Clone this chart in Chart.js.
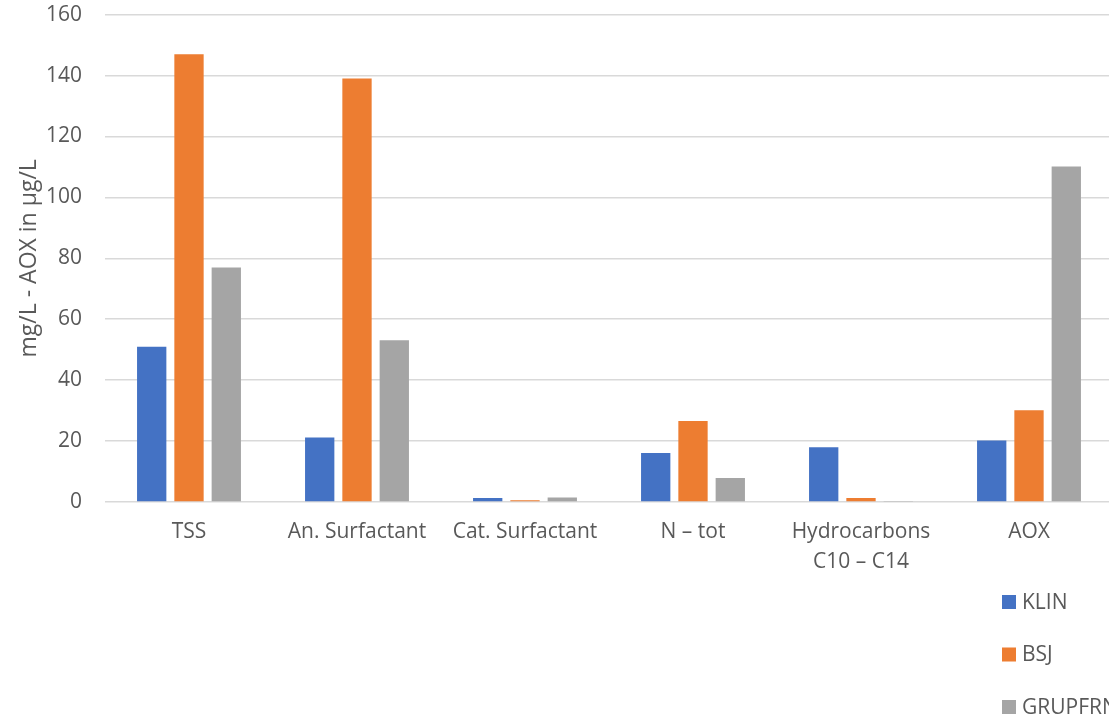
<!DOCTYPE html>
<html>
<head>
<meta charset="utf-8">
<script src="https://cdn.jsdelivr.net/npm/chart.js@4"></script>
<style>
  html, body { margin: 0; padding: 0; overflow: hidden; background: #fff; width: 1109px; height: 718px; }
  #wrap { position: absolute; left: 0; top: -21px; }
</style>
</head>
<body>
<div id="wrap"><canvas id="c" width="1120" height="761"></canvas></div>
<script>
const categories = ["TSS", "An. Surfactant", "Cat. Surfactant", "N – tot", ["Hydrocarbons", "C10 – C14"], "AOX"];
const seriesNames = ["KLIN", "BSJ", "GRUPFRN"];
const klin = [51, 21.2, 1.3, 16.1, 18, 20.2];
const bsj = [147, 139, 0.6, 26.6, 1.3, 30.1];
const grupfrn = [77, 53.1, 1.5, 7.9, 0.3, 110.1];
const seriesColors = ["#4472C4", "#ED7D31", "#A5A5A5"];
const yTicks = [0, 20, 40, 60, 80, 100, 120, 140, 160];
const yTitle = "mg/L - AOX in µg/L";

const FONT = "'Open Sans', 'Noto Sans', sans-serif";
const TEXT = "#595959";

const legendPlugin = {
  id: 'customLegend',
  afterDraw(chart) {
    const ctx = chart.ctx;
    const base = chart.chartArea.bottom + 93;
    ctx.save();
    ctx.font = "21px " + FONT;
    ctx.textBaseline = 'middle';
    ctx.textAlign = 'left';
    chart.data.datasets.forEach((ds, i) => {
      const y = base + i * 52.5;
      ctx.fillStyle = ds.backgroundColor;
      ctx.fillRect(1002, y, 14, 14);
      ctx.fillStyle = TEXT;
      ctx.fillText(ds.label, 1022, y + 8);
    });
    ctx.restore();
  }
};

const datasets = [klin, bsj, grupfrn].map((vals, i) => ({
  label: seriesNames[i],
  data: vals,
  backgroundColor: seriesColors[i],
  borderWidth: 0,
  categoryPercentage: 0.666,
  barPercentage: 0.786
}));

new Chart(document.getElementById('c'), {
  type: 'bar',
  data: { labels: categories, datasets },
  options: {
    responsive: false,
    devicePixelRatio: 1,
    animation: false,
    layout: { padding: { top: 0, right: 7, bottom: 0, left: 0 } },
    plugins: {
      legend: { display: false },
      tooltip: { enabled: false }
    },
    scales: {
      x: {
        grid: { display: false, drawTicks: false },
        border: { display: false },
        ticks: {
          color: TEXT,
          font: { family: FONT, size: 21, lineHeight: 1.43 },
          padding: 15,
          maxRotation: 0,
          autoSkip: false
        },
        afterFit(scale) { scale.height = 238; }
      },
      y: {
        min: 0,
        max: 160,
        afterBuildTicks(scale) { scale.ticks = yTicks.map(v => ({ value: v })); },
        grid: { color: "#D9D9D9", lineWidth: 1.5, drawTicks: false },
        border: { display: false },
        ticks: {
          color: TEXT,
          font: { family: FONT, size: 21, lineHeight: 1.2 },
          padding: 23
        },
        title: {
          display: true,
          text: yTitle,
          color: TEXT,
          font: { family: FONT, size: 23, lineHeight: 1.2 },
          padding: { top: 16, bottom: 0 }
        },
        afterFit(scale) { scale.width = 105; }
      }
    }
  },
  plugins: [legendPlugin]
});
</script>
</body>
</html>
